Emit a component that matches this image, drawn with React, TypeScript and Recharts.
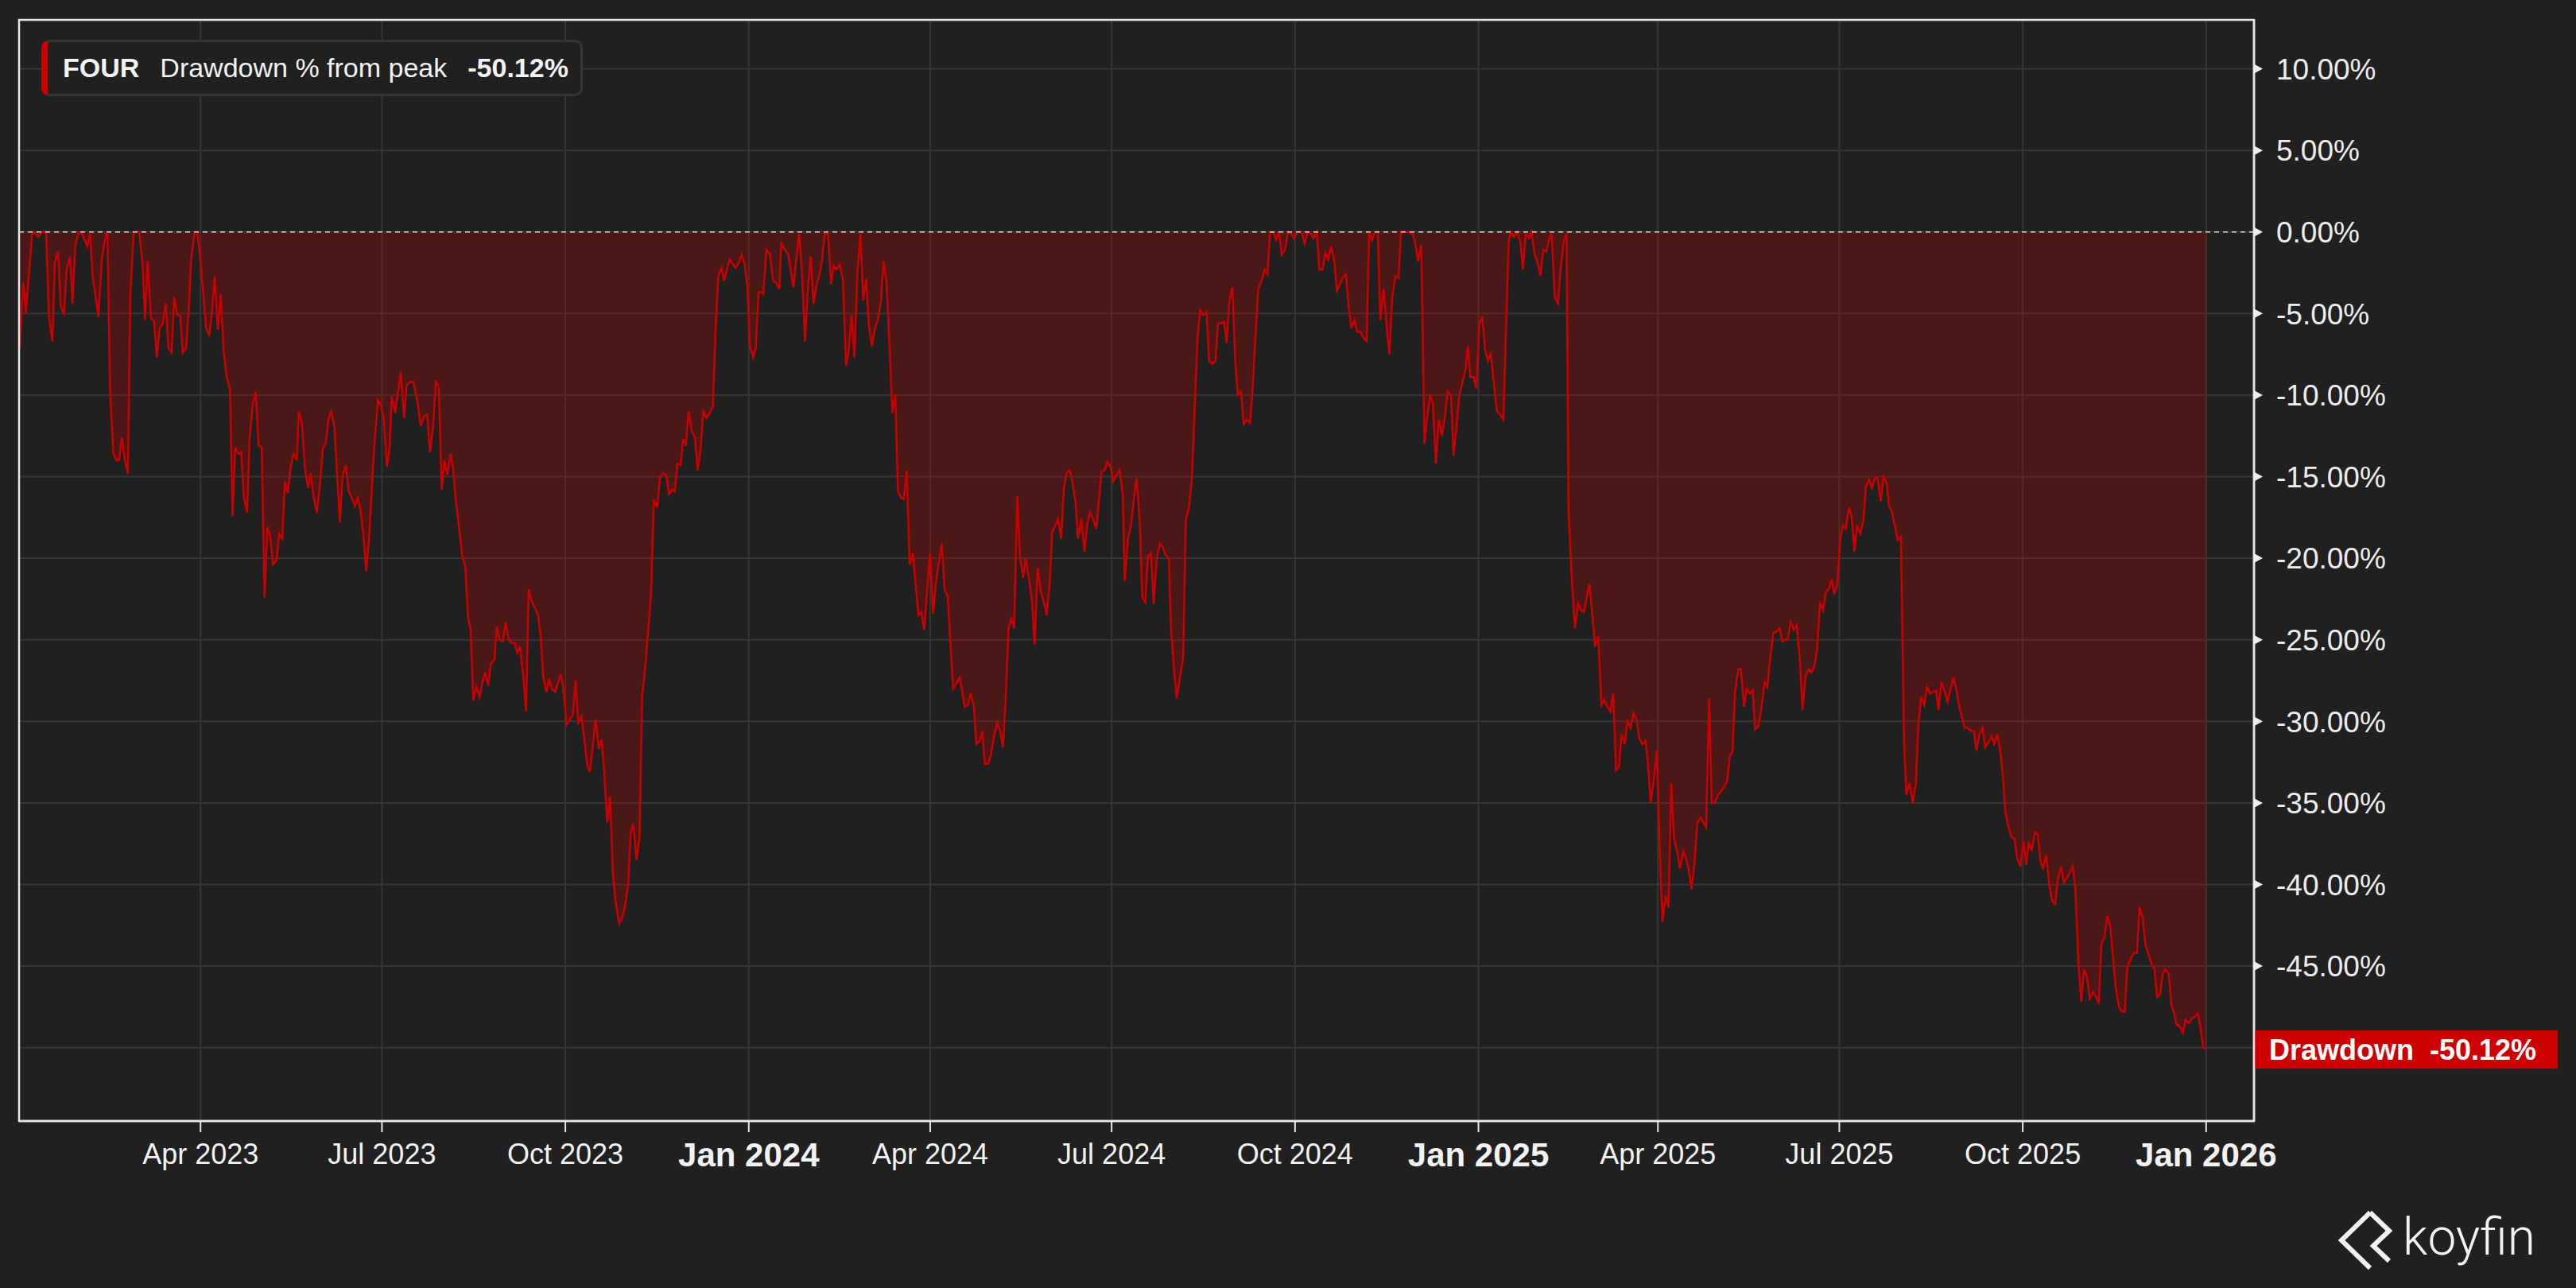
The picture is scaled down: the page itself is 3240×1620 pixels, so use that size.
import { Area, AreaChart, CartesianGrid, ReferenceArea, ReferenceLine, XAxis, YAxis } from "recharts";

// [days since 2023-01-01, drawdown % from peak]
const drawdown2023: [number, number][] = [
  [-0.7, -7.1], [1.1, -3.1], [2.4, -5.0], [4.0, -2.5], [5.6, 0], [6.6, 0], [8.6, -0.3], [10.4, 0], [12.6, 0], [14.0, -5.2],
  [15.7, -6.7], [17.0, -1.8], [18.6, -1.2], [19.9, -4.6], [21.5, -5.0], [22.9, -2.3], [24.5, -1.5], [25.8, -4.4], [27.2, -0.8], [29.0, 0],
  [30.6, -0.1], [33.2, -0.9], [34.6, -0.1], [35.9, -2.7], [38.8, -5.2], [40.5, -1.7], [41.9, -0.6], [43.3, 0], [44.7, -10.0], [46.3, -13.6],
  [47.9, -14.0], [49.2, -14.0], [50.5, -12.6], [52.1, -14.0], [53.6, -14.8], [54.8, -3.9], [56.5, 0], [59.2, 0], [60.9, -1.9], [62.2, -5.4],
  [63.5, -1.8], [65.1, -5.3], [66.7, -5.5], [68.1, -7.7], [69.5, -5.9], [71.1, -5.6], [72.6, -4.4], [73.9, -7.1], [75.5, -7.4], [76.8, -4.0],
  [78.4, -5.1], [79.8, -5.1], [81.1, -7.4], [82.8, -7.1], [84.2, -4.6], [85.3, -1.7], [87.1, 0], [88.4, 0], [89.7, -1.4], [91.2, -3.5],
  [92.8, -5.9], [94.4, -6.3], [95.7, -5.0], [97.1, -2.7], [98.7, -6.0], [100.1, -3.8], [101.6, -7.3], [103.0, -8.8], [104.8, -9.7], [106.1, -17.4],
  [107.4, -13.2], [109.0, -13.6], [110.4, -13.5], [111.8, -16.3], [113.4, -17.2], [114.6, -12.7], [116.2, -10.6], [117.7, -9.8], [119.1, -13.1], [120.7, -13.2],
  [122.1, -22.4], [123.6, -18.1], [125.0, -18.7], [126.3, -20.4], [128.2, -20.1], [129.4, -18.5], [131.0, -18.8], [132.3, -15.3], [133.8, -16.0], [135.1, -14.5],
  [136.7, -13.6], [138.3, -14.0], [139.3, -11.0], [140.9, -11.8], [142.3, -14.4], [143.9, -15.7], [145.2, -14.8], [146.8, -16.3], [148.4, -17.2], [150.0, -15.4],
  [151.3, -13.3], [152.9, -12.9], [154.2, -11.5], [155.6, -11.0], [157.2, -12.0], [158.6, -15.1], [159.9, -17.8], [161.3, -14.9], [162.9, -14.3], [164.3, -15.9],
  [165.9, -16.3], [167.5, -16.8], [168.9, -16.3], [170.4, -17.2], [171.8, -18.7], [173.1, -20.8], [174.6, -18.7], [176.2, -15.1], [177.5, -12.6], [179.0, -10.3],
  [180.6, -10.7], [181.9, -11.5], [183.5, -14.4], [184.8, -13.3], [185.9, -10.1], [187.7, -11.1], [190.4, -8.6], [192.1, -11.4], [193.4, -9.4], [195.2, -9.2],
  [196.8, -9.2], [198.8, -10.4], [200.5, -11.9], [202.1, -11.3], [203.7, -11.2], [205.1, -13.5], [206.7, -11.9], [208.1, -9.1], [209.5, -9.6], [211.0, -15.8],
  [212.3, -14.0], [213.8, -14.9], [215.4, -13.6], [216.7, -14.5], [218.0, -16.4], [219.6, -18.0], [221.2, -19.8], [222.8, -20.5], [224.2, -23.6], [225.5, -24.4],
  [226.8, -28.7], [228.4, -27.9], [230.0, -28.5], [231.3, -27.7], [232.7, -27.0], [234.3, -27.8], [235.6, -26.5], [237.5, -26.2], [238.6, -24.2], [240.1, -25.0],
  [241.7, -25.1], [243.0, -23.9], [244.6, -25.0], [246.0, -25.2], [247.6, -25.2], [248.9, -25.8], [250.2, -25.4], [251.7, -27.0], [253.3, -29.4], [254.6, -21.9],
  [256.3, -22.7], [257.9, -23.1], [259.3, -23.5], [260.6, -24.8], [261.9, -27.3], [263.5, -28.2], [264.8, -27.4], [266.2, -28.0], [267.9, -28.2], [269.4, -27.6],
  [270.7, -27.1], [272.0, -28.0], [273.6, -30.2], [275.2, -29.9], [276.8, -29.6], [278.1, -27.5], [279.5, -30.1], [281.1, -29.7], [282.7, -31.3], [284.0, -32.7],
  [285.3, -33.1], [286.6, -31.7], [288.2, -29.9], [289.8, -31.7], [291.2, -31.1], [292.5, -33.1], [294.0, -36.2], [295.4, -34.6], [296.8, -39.2], [298.1, -41.0],
  [300.0, -42.4], [301.3, -42.1], [302.9, -41.4], [304.5, -40.0], [305.8, -36.8], [307.1, -36.3], [308.7, -38.5], [310.2, -37.1], [311.5, -28.5], [313.0, -26.8],
  [314.6, -24.4], [316.0, -22.2], [317.4, -16.4], [319.1, -16.9], [320.4, -15.1], [322.0, -14.8], [323.6, -14.9], [325.0, -16.1], [326.5, -15.8], [327.9, -15.9],
  [329.2, -14.2], [330.8, -14.3], [332.1, -12.7], [333.5, -13.1], [334.8, -11.0], [336.4, -12.2], [338.0, -12.6], [339.4, -14.6], [340.9, -13.2], [342.2, -11.0],
  [343.8, -11.4], [345.4, -11.1], [347.0, -10.7], [348.3, -6.2], [349.7, -2.7], [351.3, -2.2], [352.6, -3.0], [353.9, -2.4], [355.4, -1.7], [357.1, -2.0],
  [358.4, -2.2], [360.0, -1.9], [361.4, -1.4], [363.0, -2.0], [364.3, -3.4],
];

const drawdown2024: [number, number][] = [
  [365.6, -7.0], [367.2, -7.7], [368.5, -7.1], [369.9, -3.7], [371.5, -3.7], [372.3, -3.8], [373.9, -1.1], [375.7, -1.4], [377.2, -3.0], [378.7, -3.1],
  [380.3, -3.5], [381.3, -0.7], [383.2, -1.1], [384.8, -1.4], [386.1, -2.4], [387.4, -3.4], [388.8, -1.7], [390.2, -0.1], [391.7, -2.5], [393.2, -6.7],
  [394.6, -3.6], [396.0, -1.5], [397.5, -4.4], [399.1, -3.2], [400.7, -2.5], [401.8, -1.7], [403.1, -0.1], [404.7, -0.1], [406.3, -3.2], [407.6, -2.1],
  [409.0, -2.3], [410.6, -2.0], [412.2, -2.9], [413.8, -8.2], [415.1, -7.3], [416.6, -5.1], [418.0, -7.7], [419.5, -2.5], [421.0, -0.1], [422.4, -4.2],
  [423.9, -2.9], [425.2, -5.7], [426.8, -7.0], [428.3, -5.9], [429.7, -5.4], [431.3, -4.3], [432.6, -1.8], [434.1, -3.1], [435.6, -7.0], [437.0, -11.1],
  [438.5, -10.0], [439.8, -15.9], [441.4, -16.3], [442.8, -16.4], [444.2, -14.6], [445.7, -20.4], [447.3, -19.7], [448.9, -21.9], [450.1, -23.5], [451.5, -23.3],
  [453.0, -24.4], [454.5, -21.9], [455.9, -19.7], [457.4, -23.4], [459.0, -21.4], [460.4, -20.2], [461.8, -19.1], [463.2, -21.9], [464.8, -22.4], [466.2, -25.3],
  [467.5, -28.0], [469.1, -27.7], [470.7, -27.3], [472.0, -28.1], [473.3, -29.1], [474.9, -29.0], [476.3, -28.3], [477.9, -29.1], [479.2, -31.4], [480.8, -31.2],
  [482.1, -30.6], [483.4, -32.6], [485.0, -32.6], [486.6, -32.0], [488.0, -30.9], [489.6, -30.1], [491.1, -30.6], [492.5, -31.6], [493.8, -28.8], [495.3, -24.3],
  [496.7, -23.7], [498.1, -24.3], [499.7, -16.2], [501.0, -19.9], [502.6, -21.2], [503.9, -20.0], [505.5, -21.2], [507.0, -22.6], [508.4, -25.3], [509.9, -20.6],
  [511.4, -22.0], [513.0, -22.7], [514.4, -23.5], [515.9, -21.6], [517.2, -18.4], [518.8, -18.0], [520.1, -17.6], [521.7, -18.8], [523.1, -15.7], [524.4, -14.8],
  [526.0, -14.6], [527.3, -15.3], [528.9, -16.6], [530.2, -18.8], [531.8, -17.6], [533.4, -19.6], [534.8, -17.9], [536.1, -17.2], [537.7, -17.6], [539.3, -18.2],
  [540.6, -16.5], [542.0, -14.7], [543.5, -14.6], [544.9, -14.1], [546.5, -14.4], [547.8, -15.3], [549.4, -14.9], [551.0, -14.6], [552.6, -16.1], [553.6, -21.4],
  [555.2, -18.8], [556.8, -18.0], [558.2, -16.3], [559.5, -15.1], [561.1, -17.8], [562.4, -22.4], [563.9, -22.7], [565.2, -19.9], [566.7, -19.7], [568.1, -22.8],
  [569.6, -20.1], [571.2, -19.1], [572.5, -19.3], [574.1, -19.8], [575.7, -20.0], [576.8, -24.3], [578.4, -27.0], [579.7, -28.6], [581.3, -27.3], [582.9, -26.1],
  [584.2, -17.7], [585.8, -16.9], [587.3, -15.1], [588.7, -10.7], [590.1, -6.5], [591.4, -4.8], [593.0, -5.1], [594.6, -4.9], [595.9, -7.9], [597.6, -8.1],
  [599.1, -7.9], [600.4, -5.6], [602.0, -5.6], [603.4, -5.5], [604.7, -6.8], [606.0, -4.3], [607.6, -3.4], [609.0, -7.9], [610.3, -10.0], [611.9, -9.8],
  [613.3, -11.8], [614.8, -11.5], [616.4, -11.7], [617.7, -9.7], [619.0, -6.7], [620.6, -3.5], [622.2, -3.0], [623.8, -2.3], [625.2, -2.6], [626.5, 0],
  [628.1, 0], [629.4, -0.5], [631.0, 0], [632.3, -1.4], [633.9, -1.1], [635.5, 0], [637.1, -0.1], [638.5, -0.4], [640.2, 0], [642.2, 0],
  [643.8, -0.7], [645.4, 0], [647.0, -0.1], [648.3, -0.4], [649.9, 0], [651.2, -2.3], [652.8, -2.3], [654.2, -1.3], [655.7, -1.7], [657.1, -0.9],
  [658.7, -1.8], [660.0, -3.6], [661.6, -3.2], [662.9, -2.8], [664.5, -2.6], [665.9, -4.6], [667.2, -5.9], [668.8, -5.4], [670.1, -6.1], [671.7, -6.1],
  [673.3, -6.5], [674.9, -6.7], [676.2, 0], [677.6, -0.5], [679.1, 0], [680.5, 0], [681.8, -5.4], [683.4, -3.5], [684.7, -5.4], [686.3, -7.5],
  [687.7, -4.1], [689.3, -2.7], [690.9, -2.8], [692.2, 0], [694.0, 0], [696.7, 0], [698.3, -0.2], [699.4, -0.8], [700.7, -1.8], [702.3, -0.8],
  [703.9, -13.0], [705.2, -11.5], [706.8, -10.0], [708.1, -10.5], [709.7, -14.2], [711.1, -11.5], [712.7, -12.5], [714.0, -11.5], [715.6, -9.8], [717.2, -10.0],
  [718.5, -13.7], [720.1, -11.8], [721.4, -10.0], [723.0, -9.2], [724.6, -8.4], [725.7, -7.0], [727.0, -8.9], [728.6, -8.9], [729.9, -9.6],
];

const drawdown2025: [number, number][] = [
  [731.5, -5.6], [732.9, -5.2], [734.3, -7.2], [735.8, -7.9], [737.1, -7.4], [738.7, -9.3], [740.3, -11.0], [741.9, -11.2], [743.5, -11.5], [744.8, -6.1],
  [746.2, -0.6], [747.2, 0], [748.8, -0.3], [750.4, 0], [752.0, -0.6], [753.3, -2.3], [754.7, -0.1], [756.3, -0.4], [757.6, 0], [759.2, -1.4],
  [760.5, -1.8], [762.1, -2.7], [763.5, -1.1], [765.0, -1.2], [766.4, -0.5], [767.7, -0.1], [769.3, -4.0], [770.9, -4.4], [772.2, -2.3], [773.8, -0.5],
  [775.2, -0.1], [776.2, -17.2], [777.8, -21.2], [779.4, -24.3], [781.0, -22.8], [782.6, -23.2], [783.9, -23.3], [785.3, -22.4], [786.7, -21.6], [788.2, -23.6],
  [789.5, -25.4], [791.1, -24.8], [792.7, -29.0], [794.0, -28.7], [795.6, -29.1], [797.2, -29.4], [798.6, -28.3], [800.0, -33.0], [801.5, -32.8], [802.8, -30.8],
  [804.4, -31.4], [805.7, -30.0], [807.3, -30.4], [808.7, -29.5], [810.3, -29.9], [811.6, -31.0], [813.2, -31.4], [814.8, -31.2], [816.1, -32.7], [817.4, -35.0],
  [819.0, -33.5], [820.4, -31.8], [822.0, -38.1], [823.3, -42.3], [824.9, -40.7], [826.3, -41.4], [827.7, -33.8], [829.1, -37.2], [830.7, -38.0], [832.1, -39.0],
  [833.7, -38.0], [835.0, -38.4], [836.3, -39.0], [837.9, -40.3], [839.5, -38.5], [840.8, -36.2], [842.4, -35.9], [843.8, -36.2], [845.2, -36.5], [846.7, -28.6],
  [848.0, -35.0], [849.6, -35.0], [851.2, -34.5], [852.8, -34.3], [854.4, -34.0], [855.7, -33.7], [857.1, -32.1], [858.4, -31.9], [859.7, -28.2], [861.3, -26.8],
  [862.6, -26.8], [864.2, -29.1], [865.6, -28.0], [867.2, -28.3], [868.5, -28.1], [869.8, -30.5], [871.4, -30.3], [873.0, -29.1], [874.6, -27.6], [875.9, -27.9],
  [877.3, -26.2], [878.9, -24.6], [880.5, -24.5], [882.0, -24.3], [883.4, -25.1], [885.0, -25.0], [886.3, -24.9], [887.6, -23.9], [889.2, -24.4], [890.6, -24.1],
  [892.2, -26.2], [893.5, -29.3], [895.1, -27.2], [896.7, -26.8], [898.0, -27.0], [899.6, -26.6], [900.9, -25.5], [902.3, -22.8], [903.9, -23.2], [905.2, -22.1],
  [906.8, -21.9], [908.1, -21.3], [909.4, -22.2], [911.0, -21.6], [912.4, -19.0], [913.7, -18.0], [915.3, -18.2], [916.9, -16.9], [918.2, -17.5], [919.6, -19.6],
  [920.9, -18.0], [922.5, -18.5], [924.1, -17.7], [925.4, -15.6], [927.0, -15.2], [928.3, -15.7], [929.9, -15.1], [931.2, -15.1], [932.8, -16.5], [934.2, -15.0],
  [935.8, -15.4], [936.8, -16.7], [938.4, -17.2], [940.0, -18.1], [941.3, -18.9], [942.9, -18.7], [943.7, -25.2], [944.5, -31.3], [945.6, -34.5], [947.2, -33.8],
  [948.8, -35.0], [950.4, -33.8], [951.7, -30.2], [953.0, -28.5], [954.6, -29.0], [956.0, -27.9], [957.6, -28.3], [958.9, -28.2], [960.5, -28.1], [961.8, -29.3],
  [963.2, -27.6], [964.7, -28.1], [966.3, -28.8], [967.7, -28.1], [969.3, -27.3], [970.9, -28.2], [972.5, -29.3], [974.9, -30.4], [976.5, -30.4], [978.0, -30.6],
  [979.6, -30.6], [980.7, -31.8], [982.3, -30.8], [983.9, -30.4], [985.2, -31.6], [986.8, -31.3], [988.4, -30.9], [989.7, -31.4], [991.3, -30.8], [992.7, -31.8],
  [994.0, -33.3], [995.3, -35.6], [996.7, -36.4], [998.3, -37.1], [999.9, -37.2], [1001.2, -38.4], [1002.8, -38.9], [1004.4, -37.4], [1005.7, -38.8], [1007.0, -37.5],
  [1008.6, -37.9], [1010.2, -36.8], [1011.5, -36.9], [1012.9, -38.6], [1014.2, -39.0], [1015.8, -38.2], [1017.4, -40.1], [1018.7, -41.0], [1020.3, -41.2], [1021.7, -39.6],
  [1023.3, -38.9], [1024.6, -39.9], [1026.2, -39.6], [1027.5, -39.3], [1029.1, -38.9], [1030.4, -40.3], [1032.0, -45.0], [1033.4, -47.2], [1034.7, -45.2], [1036.3, -45.7],
  [1037.6, -47.0], [1039.2, -46.6], [1040.8, -46.9], [1042.1, -47.3], [1043.5, -43.6], [1045.1, -43.2], [1046.4, -41.9], [1048.0, -42.7], [1049.3, -44.5], [1050.6, -46.3],
  [1052.2, -47.5], [1053.8, -47.8], [1055.2, -47.8], [1056.5, -45.1], [1058.1, -44.6], [1059.7, -44.2], [1061.3, -44.2], [1062.6, -41.4], [1064.0, -41.9], [1065.5, -43.7],
  [1067.1, -44.3], [1068.7, -44.9], [1070.1, -45.2], [1071.4, -46.9], [1073.0, -46.7], [1074.3, -45.4], [1075.6, -45.2], [1077.2, -45.5], [1078.6, -47.4], [1079.9, -47.9],
  [1081.2, -48.6], [1082.8, -48.7], [1084.4, -49.1], [1085.7, -48.3], [1087.3, -48.5], [1088.9, -48.2], [1090.5, -48.1], [1091.8, -47.9], [1093.2, -48.8], [1094.5, -50.0],
  [1096.1, -50.12],
];

const tickDays = [90, 181, 273, 365, 456, 547, 639, 731, 821, 912, 1004, 1096];
const tickLabels = ["Apr 2023", "Jul 2023", "Oct 2023", "Jan 2024", "Apr 2024", "Jul 2024", "Oct 2024", "Jan 2025", "Apr 2025", "Jul 2025", "Oct 2025", "Jan 2026"];
const pctTicks = [10, 5, 0, -5, -10, -15, -20, -25, -30, -35, -40, -45, -50];

const ticker = "FOUR";
const seriesName = "Drawdown % from peak";
const tagName = "Drawdown";

const X_DOMAIN: [number, number] = [-1, 1120];
const Y_DOMAIN: [number, number] = [-54.5, 13];

const BG = "#202020";
const RED = "#cc0000";
const FONT = "'Liberation Sans', Arial, sans-serif";

const data = [...drawdown2023, ...drawdown2024, ...drawdown2025].map(([day, pct]) => ({ day, pct }));
const lastPct = data[data.length - 1].pct;
const lastText = `${lastPct.toFixed(2)}%`;

function XTick({ x, y, payload }: any) {
  const label = tickLabels[tickDays.indexOf(payload.value)];
  const major = label.startsWith("Jan");
  return (
    <text x={x} y={y} dy={major ? 43 : 40} textAnchor="middle" fill="#f2f2f2" fontFamily={FONT} fontSize={major ? 42 : 36} fontWeight={major ? 700 : 400}>
      {label}
    </text>
  );
}

function YTick({ x, y, payload }: any) {
  if (payload.value === -50) return null;
  return (
    <g>
      <polygon points={`${x - 28},${y - 6} ${x - 17},${y} ${x - 28},${y + 6}`} fill="#eeeeee" />
      <text x={x} y={y} dy="0.36em" textAnchor="start" fill="#ececec" fontFamily={FONT} fontSize={37}>
        {`${payload.value.toFixed(2)}%`}
      </text>
    </g>
  );
}

function LastTag(props: any) {
  const vb = props.viewBox;
  const x = vb.x + vb.width;
  return (
    <g>
      <rect x={x} y={vb.y - 24} width={382} height={48} fill={RED} />
      <text x={x + 19} y={vb.y} dy="0.36em" fill="#ffffff" fontFamily={FONT} fontSize={36} fontWeight={700} style={{ whiteSpace: "pre" }}>
        {`${tagName}  ${lastText}`}
      </text>
    </g>
  );
}

export default function App() {
  return (
    <div style={{ position: "absolute", left: 0, top: 0, width: 3240, height: 1620, background: BG, overflow: "hidden" }}>
      <AreaChart width={3240} height={1620} data={data} margin={{ top: 25, right: 25, bottom: 130, left: 24 }}>
        <CartesianGrid stroke="#363636" strokeWidth={2} />
        <XAxis
          dataKey="day"
          type="number"
          domain={X_DOMAIN}
          allowDataOverflow
          ticks={tickDays}
          interval={0}
          height={80}
          tickSize={14}
          tickMargin={0}
          axisLine={{ stroke: "#e6e6e6", strokeWidth: 2.5 }}
          tickLine={{ stroke: "#e6e6e6", strokeWidth: 2 }}
          tick={<XTick />}
        />
        <YAxis
          orientation="right"
          type="number"
          domain={Y_DOMAIN}
          allowDataOverflow
          ticks={pctTicks}
          interval={0}
          width={380}
          tickSize={10}
          tickMargin={18}
          axisLine={{ stroke: "#e6e6e6", strokeWidth: 2.5 }}
          tickLine={false}
          tick={<YTick />}
        />
        <Area
          type="linear"
          dataKey="pct"
          stroke={RED}
          strokeWidth={2.5}
          fill={RED}
          fillOpacity={0.25}
          dot={false}
          activeDot={false}
          isAnimationActive={false}
        />
        <ReferenceLine y={0} stroke="#d6d6d6" strokeWidth={1.5} strokeDasharray="6 5" />
        <ReferenceArea x1={X_DOMAIN[0]} x2={X_DOMAIN[1]} y1={Y_DOMAIN[0]} y2={Y_DOMAIN[1]} fill="none" stroke="#e6e6e6" strokeWidth={2.5} />
        <ReferenceLine y={lastPct} stroke="none" label={<LastTag />} />
      </AreaChart>

      <div
        style={{
          position: "absolute",
          left: 52,
          top: 50,
          width: 681,
          height: 71,
          boxSizing: "border-box",
          border: "3px solid #353535",
          borderLeft: `8px solid ${RED}`,
          borderRadius: 10,
          background: BG,
          display: "flex",
          alignItems: "center",
          paddingLeft: 19,
          gap: 26,
          color: "#f2f2f2",
          fontFamily: FONT,
          fontSize: 34,
          whiteSpace: "nowrap",
        }}
      >
        <span style={{ fontWeight: 700 }}>{ticker}</span>
        <span>{seriesName}</span>
        <span style={{ fontWeight: 700 }}>{lastText}</span>
      </div>

      <svg style={{ position: "absolute", left: 2930, top: 1515, overflow: "visible" }} width={280} height={90}>
        <g fill="none" stroke="#f2f2f2" strokeWidth={6} strokeLinejoin="miter">
          <polyline points="51,10 15,45 51,80" />
          <polyline points="51,10 75,33 55,52 75,71" />
        </g>
        <text x={92} y={63} fill="#f2f2f2" fontFamily="Roboto, 'Open Sans', sans-serif" fontWeight={300} fontSize={64}>
          koyfin
        </text>
      </svg>
    </div>
  );
}
